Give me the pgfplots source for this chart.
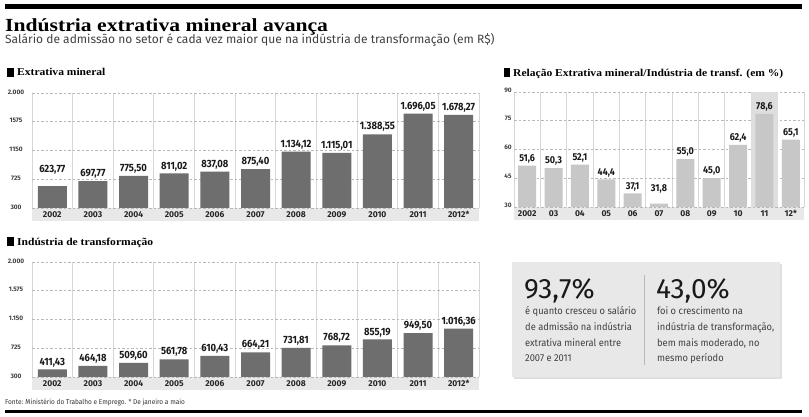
\documentclass[border=0pt]{standalone}
\usepackage{pgfplots}
\pgfplotsset{compat=1.18}
\usepackage{pgfplotstable}
\usepackage{fontspec}
\usetikzlibrary{shadows}
\setmainfont{Fira Sans}
\newfontfamily\slabT[FakeStretch=1.17]{Liberation Serif}
\newfontfamily\slab[FakeStretch=1.1]{Liberation Serif}
\newfontfamily\cond[FakeStretch=0.93]{Fira Sans}
\newfontfamily\condn[FakeStretch=0.9]{Fira Sans}
\definecolor{bardark}{gray}{0.43}
\definecolor{barlight}{gray}{0.78}
\definecolor{stripc}{gray}{0.91}
\definecolor{hlc}{gray}{0.87}
\definecolor{gridc}{gray}{0.72}
\definecolor{sepc}{gray}{0.84}
\definecolor{boxc}{gray}{0.91}

\pgfplotstableread{
x y lab dy
0 623.77 623,77 9
1 697.77 697,77 0
2 775.50 775,50 0
3 811.02 811,02 0
4 837.08 837,08 0
5 875.40 875,40 0
6 1134.12 1.134,12 0
7 1115.01 1.115,01 0
8 1388.55 1.388,55 0
9 1696.05 1.696,05 0
10 1678.27 1.678,27 0
}\extrativa

\pgfplotstableread{
x y lab dy
0 411.43 411,43 0
1 464.18 464,18 0
2 509.60 509,60 0
3 561.78 561,78 0
4 610.43 610,43 0
5 664.21 664,21 0
6 731.81 731,81 0
7 768.72 768,72 0
8 855.19 855,19 0
9 949.50 949,50 0
10 1016.36 1.016,36 0
}\transf

\pgfplotstableread{
x y lab dy
0 51.6 51,6 0
1 50.3 50,3 0
2 52.1 52,1 0
3 44.4 44,4 0
4 37.1 37,1 0
5 31.8 31,8 8
6 55.0 55,0 0
7 45.0 45,0 0
8 62.4 62,4 0
9 78.6 78,6 0
10 65.1 65,1 0
}\relacao

\pgfplotsset{
  barchart/.style={
    scale only axis, anchor=south west, xmin=-0.5, xmax=10.5,
    xtick={0,...,10}, minor xtick={-0.5,0.5,...,10.5},
    xminorgrids, ymajorgrids,
    major grid style={gridc, dash pattern=on 2.5pt off 2pt, line width=0.6pt},
    minor grid style={sepc, line width=0.9pt},
    axis line style={draw=none}, major tick length=0pt, minor tick length=0pt,
    xticklabel style={anchor=center, yshift=-6.5pt, font=\fontsize{8.5}{10}\selectfont\bfseries, text=black!85},
    yticklabel style={anchor=center, font=\fontsize{6.5}{8}\selectfont\bfseries, text=black!75},
    every node near coord/.append style={anchor=south, yshift=-1pt, text=black!90},
  },
  valbars/.style={ybar, bar shift=0pt, draw=none, nodes near coords,
    point meta=explicit symbolic,
    visualization depends on={\thisrow{dy}\as\dy},
    every node near coord/.append style={yshift=\dy pt}},
}

\begin{document}
\begin{tikzpicture}[x=1pt,y=1pt]
\useasboundingbox (0,0) rectangle (809,417);
\fill[white] (0,0) rectangle (809,417);
% rules
\fill[black] (5,408) rectangle (802,412.5);
\fill[black] (5,4) rectangle (802,6.5);
% title
\node[anchor=base west, inner sep=0] at (5,385) {\slabT\bfseries\fontsize{18.5}{20}\selectfont Indústria extrativa mineral avança};
\node[anchor=base west, inner sep=0, text=black!75] at (5,373.5) {\fontsize{12}{14}\selectfont Salário de admissão no setor é cada vez maior que na indústria de transformação (em R\$)};
% section labels
\fill[black] (7,340) rectangle (14,349);
\node[anchor=base west, inner sep=0] at (17,341) {\slab\bfseries\fontsize{10.5}{12}\selectfont Extrativa mineral};
\fill[black] (7,171) rectangle (14,180);
\node[anchor=base west, inner sep=0] at (17,171.5) {\slab\bfseries\fontsize{10.5}{12}\selectfont Indústria de transformação};
\fill[black] (504,340) rectangle (510,349);
\node[anchor=base west, inner sep=0] at (513,340.5) {\slab\bfseries\fontsize{10.5}{12}\selectfont Relação Extrativa mineral/Indústria de transf. (em \%)};
% label strips
\fill[stripc] (32,196) rectangle (479,209);
\fill[stripc] (32,27) rectangle (479,40);
\fill[stripc] (514,197) rectangle (804,210);
% footer
\node[anchor=base west, inner sep=0, text=black!80] at (5,12) {\cond\fontsize{7}{8}\selectfont Fonte: Ministério do Trabalho e Emprego. * De janeiro a maio};

% chart 1
\begin{axis}[barchart, at={(32pt,209pt)}, width=447pt, height=115pt,
  ymin=300, ymax=2000,
  ytick={300,725,1150,1575,2000}, yticklabels={300,725,1150,1575,2.000},
  yticklabel style={xshift=-16pt, yshift=1pt},
  xticklabels={2002,2003,2004,2005,2006,2007,2008,2009,2010,2011,2012*},
  every node near coord/.append style={font=\condn\fontsize{10.5}{12}\selectfont\bfseries}]
\addplot[valbars, bar width=29pt, fill=bardark] table[x=x,y=y,meta=lab] {\extrativa};
\end{axis}

% chart 2
\begin{axis}[barchart, at={(32pt,40pt)}, width=447pt, height=115pt,
  ymin=300, ymax=2000,
  ytick={300,725,1150,1575,2000}, yticklabels={300,725,1.150,1.575,2.000},
  yticklabel style={xshift=-16pt, yshift=1pt},
  xticklabels={2002,2003,2004,2005,2006,2007,2008,2009,2010,2011,2012*},
  every node near coord/.append style={font=\condn\fontsize{10.5}{12}\selectfont\bfseries}]
\addplot[valbars, bar width=29pt, fill=bardark] table[x=x,y=y,meta=lab] {\transf};
\end{axis}

% chart 3
\begin{axis}[barchart, at={(514pt,210pt)}, width=290pt, height=115pt,
  ymin=30, ymax=90,
  ytick={30,45,60,75,90}, yticklabels={30,45,60,75,90},
  yticklabel style={xshift=-6pt, yshift=2pt},
  xticklabels={2002,03,04,05,06,07,08,09,10,11,12*},
  every node near coord/.append style={font=\condn\fontsize{10}{12}\selectfont\bfseries}]
\addplot[ybar, bar width=26.4pt, bar shift=0pt, fill=hlc, draw=none, forget plot] coordinates {(9,90)};
\addplot[valbars, bar width=18pt, fill=barlight] table[x=x,y=y,meta=lab] {\relacao};
\end{axis}

% text box
\fill[boxc, drop shadow={shadow xshift=1.5pt, shadow yshift=-2pt, opacity=0.25}] (512,40) rectangle (780,155);
\draw[gray!55, line width=0.6pt] (644,52) -- (644,142);
\node[anchor=base west, inner sep=0, text=black!90] at (524,118) {\fontsize{28}{30}\selectfont 93,7\%};
\node[anchor=base west, inner sep=0, text=black!90] at (656,118) {\fontsize{28}{30}\selectfont 43,0\%};
\begin{scope}[every node/.style={anchor=base west, inner sep=0, text=black!75, font=\cond\fontsize{10}{12}\selectfont}]
\node at (525,102) {é quanto cresceu o salário};
\node at (525,86.3) {de admissão na indústria};
\node at (525,70.6) {extrativa mineral entre};
\node at (525,55) {2007 e 2011};
\node at (657,102) {foi o crescimento na};
\node at (657,86.3) {indústria de transformação,};
\node at (657,70.6) {bem mais moderado, no};
\node at (657,55) {mesmo período};
\end{scope}
\end{tikzpicture}
\end{document}
